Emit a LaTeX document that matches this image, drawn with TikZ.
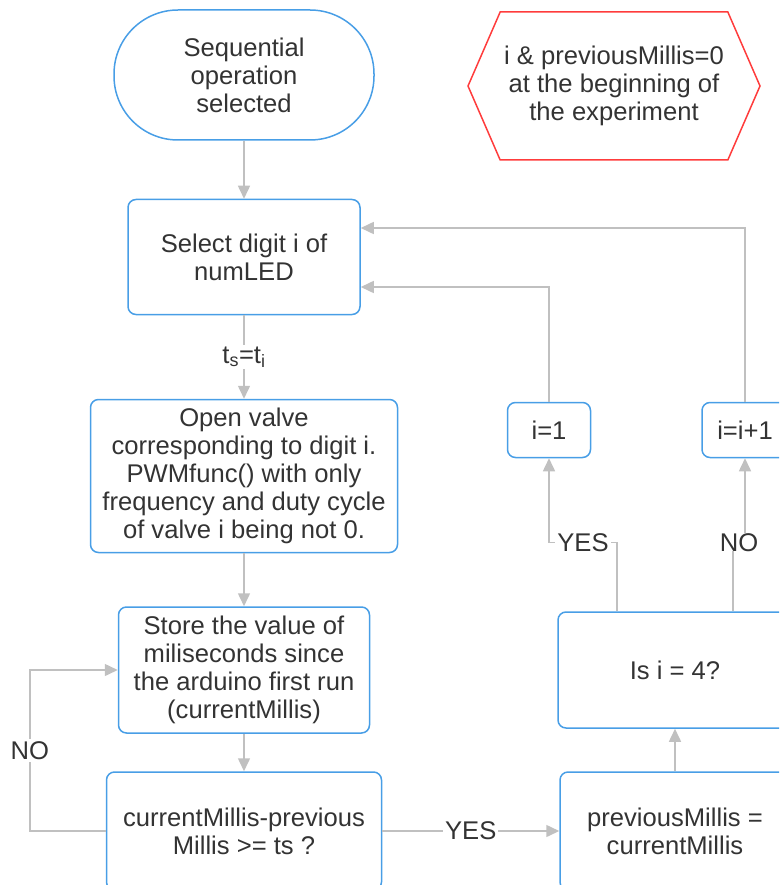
\documentclass[tikz,border=0pt]{standalone}
\usepackage{fontspec}
\setmainfont{Liberation Sans}
\usetikzlibrary{arrows.meta, positioning, shapes.symbols}
\definecolor{boxblue}{RGB}{72,158,230}
\definecolor{notered}{RGB}{255,60,60}
\definecolor{linegray}{RGB}{192,192,192}
\definecolor{textgray}{RGB}{51,51,51}

\begin{document}
\begin{tikzpicture}[
    x=1pt, y=-1pt,
    box/.style={draw=boxblue, line width=1.5pt, rounded corners=8pt, align=center, text=textgray, inner sep=0pt, font=\fontsize{25.6}{28}\selectfont},
    arrow/.style={-{Triangle[length=13pt, width=12pt]}, draw=linegray, line width=1.5pt},
    lbl/.style={fill=white, text=textgray, inner sep=2pt, font=\fontsize{25.6}{28}\selectfont}
]
    \clip (0,0) rectangle (779,885);

    % Start and note
    \node[box, rounded corners=64pt, minimum width=260pt, minimum height=130pt] (start) at (244,75) {Sequential\\operation\\selected};
    \node[box, draw=notered, rounded corners=0pt, shape=signal, signal to=east and west, signal pointer angle=133, minimum width=292pt, minimum height=148pt] (note) at (614,86) {i \& previousMillis=0\\at the beginning of\\the experiment};

    % Main column
    \node[box, minimum width=232pt, minimum height=115pt] (select) at (244,257) {Select digit i of\\numLED};
    \node[box, minimum width=307pt, minimum height=153pt] (valve) at (244,476) {Open valve\\corresponding to digit i.\\PWMfunc() with only\\frequency and duty cycle\\of valve i being not 0.};
    \node[box, minimum width=251pt, minimum height=126pt] (store) at (244,670) {Store the value of\\miliseconds since\\the arduino first run\\(currentMillis)};
    \node[box, minimum width=275pt, minimum height=118pt] (check) at (244,831) {currentMillis-previous\\Millis >= ts ?};

    % Right column
    \node[box, minimum width=230pt, minimum height=118pt] (prev) at (675,831) {previousMillis =\\currentMillis};
    \node[box, minimum width=234pt, minimum height=116pt] (isfour) at (675,670) {Is i = 4?};
    \node[box, minimum width=83pt, minimum height=55pt] (one) at (549,430) {i=1};
    \node[box, minimum width=86pt, minimum height=55pt] (incr) at (745,430) {i=i+1};

    % Arrows
    \draw[arrow] (start) -- (select);
    \draw[arrow] (select) -- node[lbl] {t\textsubscript{s}=t\textsubscript{i}} (valve);
    \draw[arrow] (valve) -- (store);
    \draw[arrow] (store) -- (check);
    \draw[arrow] (check.west) -- ++(-76,0) |- node[lbl, pos=0.25] {NO} (store.west);
    \draw[arrow] (check) -- node[lbl] {YES} (prev);
    \draw[arrow] (prev) -- (isfour);
    \draw[arrow] ([xshift=-58pt]isfour.north) -- ++(0,-69) -| node[lbl, pos=0.25] {YES} (one.south);
    \draw[arrow] ([xshift=58pt]isfour.north) -- ++(0,-69) -| node[lbl, pos=0.25, inner sep=0pt] {NO} (incr.south);
    \draw[arrow] (one.north) |- ([yshift=-30pt]select.east);
    \draw[arrow] (incr.north) |- ([yshift=29pt]select.east);
\end{tikzpicture}
\end{document}
